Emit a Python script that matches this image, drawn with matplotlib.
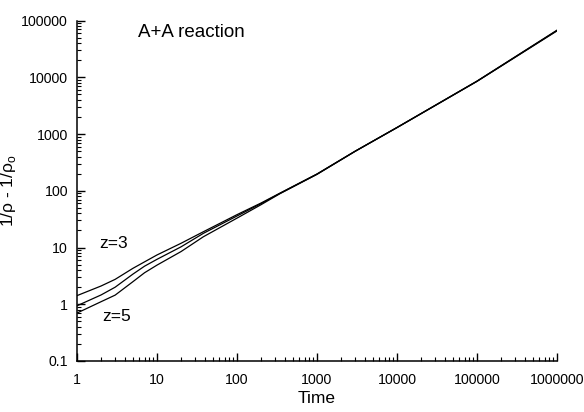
import matplotlib
matplotlib.use('Agg')
import matplotlib.pyplot as plt
from matplotlib.ticker import LogLocator, FuncFormatter, NullFormatter

plt.rcParams['font.family'] = ['Liberation Sans', 'DejaVu Sans']
plt.rcParams['mathtext.fontset'] = 'custom'
plt.rcParams['mathtext.rm'] = 'Liberation Sans'

# time points and 1/rho - 1/rho0
tiempo = [1, 2, 3, 5, 7, 10, 20, 38, 100, 200, 344, 1000, 3000, 10000, 100000, 1000000]
z3 = [1.42, 2.1, 2.75, 4.3, 5.6, 7.4, 11.9, 19.0, 38, 61, 91, 198, 500, 1310, 8600, 68000]
z4 = [0.94, 1.46, 2.0, 3.4, 4.7, 6.2, 10.3, 17.8, 36, 59.5, 90, 197, 499, 1305, 8550, 67000]
z5 = [0.70, 1.11, 1.45, 2.5, 3.6, 4.9, 8.5, 15.5, 33, 57, 89, 195, 497, 1300, 8500, 66000]

fig = plt.figure(figsize=(5.84, 4.12), dpi=100)
ax = fig.add_axes([0.1318, 0.1238, 0.8219, 0.826])

for serie in (z3, z4, z5):
    ax.plot(tiempo, serie, color='black', lw=0.9)

ax.set_xscale('log'); ax.set_yscale('log')
ax.set_xlim(1, 1e6); ax.set_ylim(0.1, 1e5)

fmt = FuncFormatter(lambda v, p: f'{v:.0f}' if v >= 1 else f'{v:g}')
for axis in (ax.xaxis, ax.yaxis):
    axis.set_major_locator(LogLocator(base=10, numticks=20))
    axis.set_minor_locator(LogLocator(base=10, subs=range(2, 10), numticks=20))
    axis.set_major_formatter(fmt)
    axis.set_minor_formatter(NullFormatter())

ax.tick_params(which='major', direction='in', length=6, width=1, labelsize=10.2)
ax.tick_params(which='minor', direction='in', length=3, width=0.8)
ax.tick_params(axis='x', which='major', pad=8.5)
ax.tick_params(axis='y', which='major', pad=6.5)
ax.spines['top'].set_visible(False); ax.spines['right'].set_visible(False)
for s in ('left', 'bottom'):
    ax.spines[s].set_linewidth(1.1)

ax.set_xlabel('Time', fontsize=12.5, labelpad=3)
ax.set_ylabel(r'1/ρ - 1/ρ$_\mathrm{o}$', fontsize=12.5)
ax.yaxis.set_label_coords(-0.123, 0.5)

ax.text(5.8, 62000, 'A+A reaction', fontsize=13.5, va='center', ha='left')
ax.text(1.9, 12, 'z=3', fontsize=12.5, va='center', ha='left')
ax.text(2.05, 0.62, 'z=5', fontsize=12.5, va='center', ha='left')

fig.savefig('out.png', dpi=100)
